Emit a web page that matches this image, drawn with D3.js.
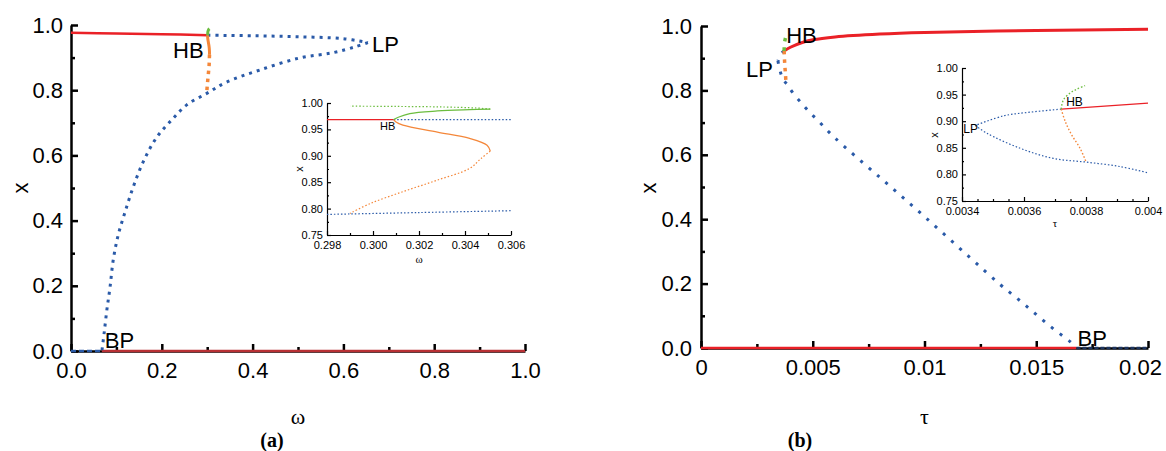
<!DOCTYPE html>
<html>
<head>
<meta charset="utf-8">
<script src="https://cdn.jsdelivr.net/npm/d3@7"></script>
<style>body{margin:0;background:#fff}</style>
</head>
<body>
<script>
// ---- panel (a): x versus omega ----
var aStableTop = [[0,0.976],[0.1,0.974],[0.2,0.972],[0.3009,0.9685]];
var aUnstableUpper = [[0.3009,0.9685],[0.4,0.967],[0.5,0.964],[0.6,0.958],[0.654,0.946]];
var aUnstableLower = [[0.654,0.946],[0.626,0.933],[0.577,0.915],[0.504,0.899],[0.416,0.862],[0.343,0.825],
  [0.30,0.791],[0.255,0.755],[0.222,0.709],[0.189,0.656],[0.159,0.58],[0.137,0.503],[0.119,0.426],
  [0.104,0.356],[0.093,0.279],[0.086,0.196],[0.079,0.126],[0.073,0.055],[0.068,0]];
var aZeroUnstable = [[0,0],[0.068,0]];
var aZeroStable = [[0.068,0],[1,0]];
var aOrangeStable = [[0.3009,0.9685],[0.3010,0.964],[0.3013,0.958],[0.3028,0.945],[0.3042,0.933],[0.30496,0.920],[0.3051,0.909]];
var aOrangeUnstable = [[0.3051,0.909],[0.3047,0.895],[0.3042,0.876],[0.3028,0.854],[0.3013,0.832],[0.2999,0.81],[0.2990,0.791]];
var aGreenStable = [[0.3009,0.9685],[0.3011,0.973],[0.3016,0.980],[0.3028,0.9849],[0.3042,0.9874],[0.3051,0.9885]];
var aGreenUnstable = [[0.3051,0.9885],[0.3045,0.9905],[0.303,0.9925],[0.301,0.9935],[0.299,0.994]];
var aInsetRed = [[0.298,0.9685],[0.3009,0.9685]];
var aInsetBlueUpper = [[0.3009,0.9685],[0.306,0.9685]];
var aInsetBlueLower = [[0.298,0.789],[0.302,0.7925],[0.306,0.796]];
var aHB = [0.3009,0.9685], aLP = [0.654,0.946], aBP = [0.068,0];

// ---- panel (b): x versus tau ----
var bStable = [[0.00372,0.9227],[0.004,0.934],[0.0045,0.948],[0.005,0.957],[0.006,0.966],[0.008,0.975],
  [0.01,0.980],[0.015,0.986],[0.02,0.990]];
var bUnstableUpper = [[0.00372,0.9227],[0.00362,0.917],[0.003534,0.910],[0.003443,0.892]];
var bUnstableLower = [[0.003443,0.892],[0.00348,0.8775],[0.003588,0.849],[0.003695,0.830],[0.003802,0.823],
  [0.00391,0.8147],[0.004,0.803],[0.00465,0.748],[0.00532,0.70],[0.006,0.652],[0.008,0.530],[0.010,0.408],
  [0.012,0.283],[0.01335,0.199],[0.0142,0.151],[0.01495,0.107],[0.01574,0.061],[0.01651,0.02],[0.0168,0]];
var bZeroStable = [[0,0],[0.0168,0]];
var bZeroUnstable = [[0.0168,0],[0.02,0]];
var bOrange = [[0.00372,0.9227],[0.003733,0.8995],[0.003754,0.874],[0.003781,0.849],[0.003799,0.825]];
var bGreen = [[0.00372,0.9227],[0.003727,0.940],[0.003749,0.953],[0.00377,0.960],[0.003797,0.967]];
var bHB = [0.00372,0.9227], bLP = [0.003443,0.892], bBP = [0.0168,0];

// ---- tick values ----
var mainYTicks = [0,0.2,0.4,0.6,0.8,1.0], mainYMinor = [0.1,0.3,0.5,0.7,0.9];
var aXTicks = [0,0.2,0.4,0.6,0.8,1.0], aXMinor = [0.1,0.3,0.5,0.7,0.9];
var bXTicks = [0,0.005,0.01,0.015,0.02], bXLabels = ["0","0.005","0.01","0.015","0.02"];
var bXMinor = [0.0025,0.0075,0.0125,0.0175];
var insetYTicks = [0.75,0.80,0.85,0.90,0.95,1.00], insetYMinor = [0.775,0.825,0.875,0.925,0.975];
var aInXTicks = [0.298,0.300,0.302,0.304,0.306], aInXMinor = [0.299,0.301,0.303,0.305];
var bInXTicks = [0.0034,0.0036,0.0038,0.004], bInXLabels = ["0.0034","0.0036","0.0038","0.004"];
var bInXMinor = [0.00345,0.0035,0.00355,0.0037,0.00375,0.0039,0.00395];

var RED="#ea2127", BLUE="#2a5aa8", ORANGE="#f4873a", GREEN="#6cbd3f";
var SANS="'Liberation Sans', Arial, sans-serif", SERIF="'Liberation Serif', 'Times New Roman', serif";

var svg = d3.select("body").append("svg").attr("width",1166).attr("height",451);

function axes(g, xs, ys, o){
  var xa = g.append("g").attr("transform","translate(0,"+ys.range()[0]+")")
    .call(d3.axisBottom(xs).tickValues(o.xt).tickFormat(function(d,i){return o.xl[i];})
      .tickSizeInner(-o.big).tickSizeOuter(0).tickPadding(o.xpad));
  g.append("g").attr("transform","translate(0,"+ys.range()[0]+")")
    .call(d3.axisBottom(xs).tickValues(o.xm).tickFormat("").tickSizeInner(-o.small).tickSizeOuter(0))
    .select(".domain").remove();
  var ya = g.append("g").attr("transform","translate("+xs.range()[0]+",0)")
    .call(d3.axisLeft(ys).tickValues(o.yt).tickFormat(function(d,i){return o.yl[i];})
      .tickSizeInner(-o.big).tickSizeOuter(0).tickPadding(o.ypad));
  g.append("g").attr("transform","translate("+xs.range()[0]+",0)")
    .call(d3.axisLeft(ys).tickValues(o.ym).tickFormat("").tickSizeInner(-o.small).tickSizeOuter(0))
    .select(".domain").remove();
  g.selectAll(".domain").attr("stroke","#000").attr("stroke-width",o.lw);
  g.selectAll(".tick line").attr("stroke","#000").attr("stroke-width",o.lw);
  g.selectAll(".tick text").attr("font-family",SANS).attr("font-size",o.fs).attr("fill","#000");
  return xa;
}

function curve(g, xs, ys, data, color, w, dash){
  g.append("path").datum(data)
    .attr("d", d3.line().x(function(d){return xs(d[0]);}).y(function(d){return ys(d[1]);}).curve(d3.curveCatmullRom))
    .attr("fill","none").attr("stroke",color).attr("stroke-width",w)
    .attr("stroke-dasharray",dash||null);
}

function label(g, txt, x, y, fs, anchor, fam){
  return g.append("text").attr("x",x).attr("y",y).text(txt)
    .attr("font-family",fam||SANS).attr("font-size",fs).attr("text-anchor",anchor||"start");
}

var fmt1 = d3.format(".1f"), fmt2 = d3.format(".2f"), fmt3 = d3.format(".3f");

// ================= panel (a) =================
var ga = svg.append("g");
var xa = d3.scaleLinear().domain([0,1]).range([71,525]);
var ya = d3.scaleLinear().domain([0,1]).range([351,25]);
axes(ga, xa, ya, {xt:aXTicks, xl:aXTicks.map(fmt1), xm:aXMinor, yt:mainYTicks, yl:mainYTicks.map(fmt1), ym:mainYMinor,
  big:7, small:4, lw:2.5, fs:22, xpad:11, ypad:8});
curve(ga, xa, ya, aZeroUnstable, BLUE, 2.5, "5,3");
curve(ga, xa, ya, aZeroStable, "#b83034", 2.5);
curve(ga, xa, ya, aStableTop, RED, 2.5);
curve(ga, xa, ya, aUnstableUpper, BLUE, 3, "3,5");
curve(ga, xa, ya, aUnstableLower, BLUE, 3, "3,5");
curve(ga, xa, ya, aOrangeStable, ORANGE, 3);
curve(ga, xa, ya, aOrangeUnstable, ORANGE, 3.5, "3.5,4.5");
curve(ga, xa, ya, aGreenStable, GREEN, 3);
label(ga, "HB", xa(aHB[0])-4, ya(aHB[1])+23, 22, "end");
label(ga, "LP", xa(aLP[0])+4, ya(aLP[1])+9, 22);
label(ga, "BP", xa(aBP[0])+3, ya(aBP[1])-3, 22);
ga.append("text").attr("transform","translate(28,188) rotate(-90)").attr("text-anchor","middle")
  .attr("font-family",SANS).attr("font-size",22).text("x");
label(ga, "ω", (xa.range()[0]+xa.range()[1])/2, 424, 22, "middle", SERIF);
label(ga, "(a)", 272, 447, 20, "middle", SERIF).attr("font-weight","bold");

// inset (a)
var gai = svg.append("g");
var xai = d3.scaleLinear().domain([0.298,0.306]).range([327,511]);
var yai = d3.scaleLinear().domain([0.75,1]).range([235,103]);
axes(gai, xai, yai, {xt:aInXTicks, xl:aInXTicks.map(fmt3), xm:aInXMinor, yt:insetYTicks, yl:insetYTicks.map(fmt2), ym:insetYMinor,
  big:4, small:2, lw:1.2, fs:11, xpad:6, ypad:4});
curve(gai, xai, yai, aInsetRed, RED, 1.2);
curve(gai, xai, yai, aInsetBlueUpper, BLUE, 1.2, "1.5,2");
curve(gai, xai, yai, aInsetBlueLower, BLUE, 1.2, "1.5,2");
curve(gai, xai, yai, aOrangeStable, ORANGE, 1.2);
curve(gai, xai, yai, aOrangeUnstable, ORANGE, 1.2, "1.5,2");
curve(gai, xai, yai, aGreenStable, GREEN, 1.2);
curve(gai, xai, yai, aGreenUnstable, GREEN, 1.2, "1.5,2");
label(gai, "HB", xai(aHB[0])-6, yai(aHB[1])+10, 11, "middle");
gai.append("text").attr("transform","translate(303,169) rotate(-90)").attr("text-anchor","middle")
  .attr("font-family",SANS).attr("font-size",11).text("x");
label(gai, "ω", (xai.range()[0]+xai.range()[1])/2, 263, 11, "middle", SERIF);

// ================= panel (b) =================
var gb = svg.append("g");
var xb = d3.scaleLinear().domain([0,0.02]).range([701,1148]);
var yb = d3.scaleLinear().domain([0,1]).range([348,26]);
var bxAxis = axes(gb, xb, yb, {xt:bXTicks, xl:bXLabels, xm:bXMinor, yt:mainYTicks, yl:mainYTicks.map(fmt1), ym:mainYMinor,
  big:7, small:4, lw:2.5, fs:22, xpad:11, ypad:9});
// last label sits a little left of its tick so it stays inside the frame
bxAxis.selectAll(".tick text").filter(function(d){return d===0.02;}).attr("dx",-8);
curve(gb, xb, yb, bZeroStable, RED, 2.5);
curve(gb, xb, yb, bZeroUnstable, "#1d3560", 2.5, "4,2");
curve(gb, xb, yb, bUnstableUpper, BLUE, 3, "3,8");
curve(gb, xb, yb, bUnstableLower, BLUE, 3, "3,8");
curve(gb, xb, yb, bStable, RED, 3);
curve(gb, xb, yb, bOrange, ORANGE, 3.5, "3.5,5");
curve(gb, xb, yb, bGreen, GREEN, 3.5, "3.5,6");
label(gb, "HB", xb(bHB[0])+2, yb(bHB[1])-8, 22);
label(gb, "LP", xb(bLP[0])-5, yb(bLP[1])+16, 22, "end");
label(gb, "BP", xb(bBP[0])+1, yb(bBP[1])-2, 22);
gb.append("text").attr("transform","translate(656,188) rotate(-90)").attr("text-anchor","middle")
  .attr("font-family",SANS).attr("font-size",22).text("x");
label(gb, "τ", (xb.range()[0]+xb.range()[1])/2, 424, 22, "middle", SERIF);
label(gb, "(b)", 800, 447, 20, "middle", SERIF).attr("font-weight","bold");

// inset (b)
var gbi = svg.append("g");
var xbi = d3.scaleLinear().domain([0.0034,0.004]).range([962,1148]);
var ybi = d3.scaleLinear().domain([0.75,1]).range([201,68]);
axes(gbi, xbi, ybi, {xt:bInXTicks, xl:bInXLabels, xm:bInXMinor, yt:insetYTicks, yl:insetYTicks.map(fmt2), ym:insetYMinor,
  big:4, small:2, lw:1.2, fs:11, xpad:6, ypad:4});
curve(gbi, xbi, ybi, bStable.slice(0,2), RED, 1.2);
curve(gbi, xbi, ybi, bUnstableUpper, BLUE, 1.2, "1.5,2");
curve(gbi, xbi, ybi, bUnstableLower.slice(0,7), BLUE, 1.2, "1.5,2");
curve(gbi, xbi, ybi, bOrange, ORANGE, 1.4, "1.5,2");
curve(gbi, xbi, ybi, bGreen, GREEN, 1.4, "1.5,2");
label(gbi, "HB", xbi(bHB[0])+5, ybi(bHB[1])-3, 12);
label(gbi, "LP", xbi(bLP[0])-12, ybi(bLP[1])+8, 12);
gbi.append("text").attr("transform","translate(938,135) rotate(-90)").attr("text-anchor","middle")
  .attr("font-family",SANS).attr("font-size",11).text("x");
label(gbi, "τ", (xbi.range()[0]+xbi.range()[1])/2, 227, 11, "middle", SERIF);
</script>
</body>
</html>
